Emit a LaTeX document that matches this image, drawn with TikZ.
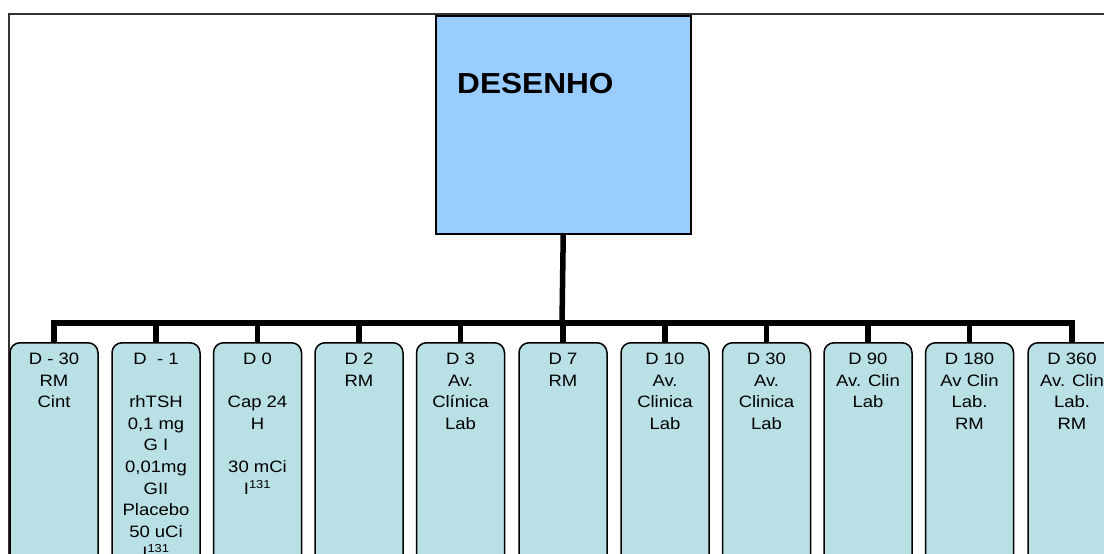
\documentclass[tikz,border=0pt]{standalone}
\usepackage{fontspec}
\setmainfont{Liberation Sans}
\newfontfamily\leaffont[FakeStretch=1.12]{Liberation Sans}
\newfontfamily\titlefont[FakeStretch=1.09]{Liberation Sans Bold}
\definecolor{topfill}{HTML}{99CCFF}
\definecolor{leaffill}{HTML}{B9E0E4}
\begin{document}
\begin{tikzpicture}[x=1pt,y=-1pt,
  frame/.style={draw=black!80,line width=2pt},
  topbox/.style={draw=black,line width=1.5pt,fill=topfill,minimum width=255pt,minimum height=218pt,inner sep=0pt,anchor=north west},
  leaf/.style={draw=black,line width=1.5pt,fill=leaffill,rounded corners=10pt,minimum width=88pt,minimum height=240pt,inner sep=0pt,anchor=north},
  leaftext/.style={align=center,inner sep=0pt,anchor=north,font=\leaffont\fontsize{16.5pt}{21.6pt}\selectfont},
  title/.style={inner sep=0pt,anchor=base west,font=\titlefont\fontsize{29pt}{32pt}\selectfont},
  conn/.style={draw=black,line width=5.5pt}]
\useasboundingbox (0,0) rectangle (1104,554);
\clip (0,0) rectangle (1104,554);
\draw[frame] (9,14) rectangle (1115,565);
\node[topbox] (top) at (435,15) {};
\node[title] (ttl) at (457,93) {DESENHO};
\coordinate (bus) at (562,323);
\draw[conn] (top.south) -- (bus);
\foreach \i/\x/\t in {
  1/54/{D - 30\\RM\\Cint},
  2/156/{D\ \ - 1\\ \\rhTSH\\0,1 mg\\G I\\0,01mg\\GII\\Placebo\\50 uCi\\I\textsuperscript{131}},
  3/257.5/{D 0\\ \\Cap 24\\H\\ \\30 mCi\\I\textsuperscript{131}},
  4/359/{D 2\\RM},
  5/460.5/{D 3\\Av.\\Clínica\\Lab},
  6/563/{D 7\\RM},
  7/665/{D 10\\Av.\\Clinica\\Lab},
  8/766.5/{D 30\\Av.\\Clinica\\Lab},
  9/868/{D 90\\Av. Clin\\Lab},
  10/969.5/{D 180\\Av Clin\\Lab.\\RM},
  11/1072/{D 360\\Av. Clin\\Lab.\\RM}}{
  \node[leaf] (b\i) at (\x,342) {};
  \node[leaftext] (t\i) at (\x,353) {\t};
  \draw[conn] (bus) -| (b\i.north);
}
\end{tikzpicture}
\end{document}
